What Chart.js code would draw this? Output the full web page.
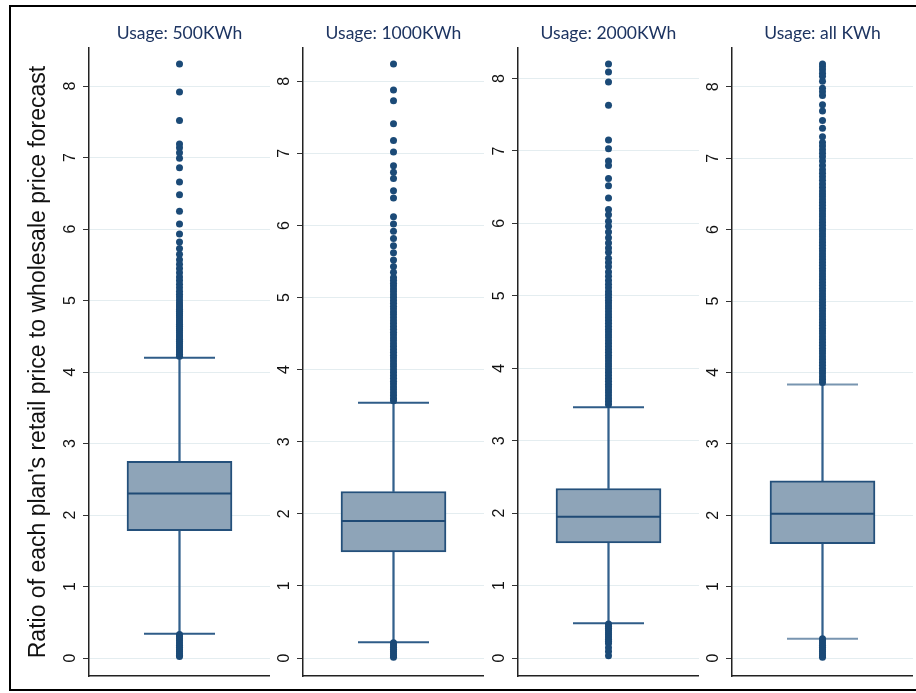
<!DOCTYPE html>
<html><head><meta charset="utf-8">
<script src="https://cdn.jsdelivr.net/npm/chart.js@4.4.1/dist/chart.umd.min.js"></script>
<style>
html,body{margin:0;padding:0;background:#fff;}
body{width:916px;height:693px;position:relative;overflow:hidden;}
#frame{position:absolute;left:9px;top:5px;width:930px;height:686px;border:2px solid #000;box-sizing:border-box;}
canvas{position:absolute;top:0;}
</style></head><body>
<div id="frame"></div>
<canvas id="c0" width="250" height="693" style="left:20px"></canvas>
<canvas id="c1" width="226" height="693" style="left:258px"></canvas>
<canvas id="c2" width="226" height="693" style="left:473px"></canvas>
<canvas id="c3" width="226" height="693" style="left:687px"></canvas>
<script>
// ---- data ----
const panelTitles = ['Usage: 500KWh', 'Usage: 1000KWh', 'Usage: 2000KWh', 'Usage: all KWh'];
const categories = ['500KWh', '1000KWh', '2000KWh', 'all KWh'];
const yAxisTitle = "Ratio of each plan's retail price to wholesale price forecast";
const yTicks = [0, 1, 2, 3, 4, 5, 6, 7, 8];

const q1 = [1.78, 1.47, 1.59, 1.60];
const medians = [2.30, 1.90, 1.95, 2.02];
const q3 = [2.75, 2.31, 2.34, 2.48];
const upperWhisker = [4.20, 3.54, 3.46, 3.83];
const lowerWhisker = [0.34, 0.22, 0.48, 0.27];

const outliers500 = [8.31, 7.92, 7.52, 7.19, 7.14, 7.07, 6.99, 6.86, 6.66, 6.48, 6.25, 6.07, 5.93, 5.82, 5.73,
  5.65, 5.57, 5.51, 5.45, 5.39, 5.33, 5.28, 5.23, 5.18, 5.13, 5.09, 5.05, 5.01, 4.97, 4.94, 4.91, 4.88, 4.85,
  4.82, 4.79, 4.76, 4.73, 4.70, 4.67, 4.64, 4.61, 4.58, 4.55, 4.52, 4.49, 4.46, 4.43, 4.40, 4.37, 4.34, 4.31,
  4.28, 4.25, 4.22,
  0.33, 0.30, 0.27, 0.24, 0.21, 0.18, 0.15, 0.12, 0.09, 0.06, 0.04, 0.02];

const outliers1000 = [8.24, 7.88, 7.73, 7.41, 7.18, 7.02, 6.83, 6.74, 6.65, 6.48, 6.38, 6.12, 6.02, 5.92, 5.82,
  5.72, 5.62, 5.52, 5.43, 5.35, 5.28, 5.24, 5.20, 5.16, 5.12, 5.08, 5.04, 5.00, 4.96, 4.92, 4.88, 4.84, 4.80,
  4.76, 4.72, 4.68, 4.64, 4.60, 4.56, 4.52, 4.48, 4.44, 4.40, 4.36, 4.32, 4.28, 4.24, 4.20, 4.16, 4.12, 4.08,
  4.04, 4.00, 3.96, 3.92, 3.88, 3.84, 3.80, 3.76, 3.72, 3.68, 3.64, 3.60, 3.57,
  0.21, 0.18, 0.15, 0.12, 0.09, 0.06, 0.03, 0.01];

const outliers2000 = [8.20, 8.09, 7.95, 7.63, 7.15, 7.03, 6.86, 6.80, 6.62, 6.52, 6.35, 6.19, 6.12, 6.03, 5.96,
  5.88, 5.80, 5.73, 5.66, 5.60, 5.52, 5.46, 5.40, 5.33, 5.27, 5.21, 5.16, 5.11, 5.06, 5.02, 4.98, 4.94, 4.90,
  4.86, 4.82, 4.78, 4.74, 4.70, 4.66, 4.62, 4.58, 4.54, 4.50, 4.46, 4.42, 4.38, 4.34, 4.30, 4.26, 4.22, 4.18,
  4.14, 4.10, 4.06, 4.02, 3.98, 3.94, 3.90, 3.86, 3.82, 3.78, 3.74, 3.70, 3.66, 3.62, 3.58, 3.54, 3.50,
  0.47, 0.44, 0.41, 0.38, 0.35, 0.32, 0.29, 0.26, 0.23, 0.20, 0.14, 0.09, 0.03];

const outliersAll = [8.32, 8.28, 8.24, 8.19, 8.15, 8.08, 7.98, 7.93, 7.88, 7.75, 7.66, 7.53, 7.42, 7.30, 7.22,
  7.17, 7.12, 7.07, 7.02, 6.96, 6.90, 6.84, 6.79, 6.74, 6.69, 6.64, 6.59, 6.54, 6.50, 6.46, 6.42, 6.38, 6.34,
  6.30, 6.26, 6.22, 6.18, 6.14, 6.10, 6.06, 6.02, 5.98, 5.94, 5.90, 5.86, 5.82, 5.78, 5.74, 5.70, 5.66, 5.62,
  5.58, 5.54, 5.50, 5.46, 5.42, 5.38, 5.34, 5.30, 5.26, 5.22, 5.18, 5.14, 5.10, 5.06, 5.02, 4.98, 4.94, 4.90,
  4.86, 4.82, 4.78, 4.74, 4.70, 4.66, 4.62, 4.58, 4.54, 4.50, 4.46, 4.42, 4.38, 4.34, 4.30, 4.26, 4.22, 4.18,
  4.14, 4.10, 4.06, 4.02, 3.98, 3.94, 3.90, 3.86,
  0.27, 0.24, 0.21, 0.18, 0.15, 0.12, 0.09, 0.06, 0.03, 0.01];

const outlierSets = [outliers500, outliers1000, outliers2000, outliersAll];

// ---- drawing ----
const rotTicks = {
  id: 'rotTicks',
  afterDraw(chart) {
    const s = chart.scales.y, ctx = chart.ctx;
    ctx.save();
    ctx.fillStyle = '#111';
    ctx.font = '16px "Liberation Sans", Arial, sans-serif';
    ctx.textAlign = 'center';
    ctx.textBaseline = 'alphabetic';
    s.ticks.forEach(t => {
      const y = s.getPixelForValue(t.value);
      ctx.save();
      ctx.translate(s.right - 14, y);
      ctx.rotate(-Math.PI / 2);
      ctx.fillText(String(t.value), 0, 0);
      ctx.restore();
    });
    ctx.restore();
  }
};

function makeChart(i) {
  const label = categories[i];
  const outl = outlierSets[i];
  const maxV = Math.max(...outl);
  const yMin = -maxV * 18 / 594;
  const yMax = maxV + maxV * 16 / 594;
  const first = i === 0;
  new Chart(document.getElementById('c' + i), {
    type: 'bar',
    data: {
      labels: [label],
      datasets: [
        { type: 'line', label: 'outliers', data: outl.map(v => ({ x: label, y: v })), showLine: false,
          pointRadius: 3.5, pointHoverRadius: 3.5, pointBackgroundColor: '#1b4a77', pointBorderWidth: 0, order: 0 },
        { type: 'line', label: 'median', data: [{ x: label, y: medians[i] }], showLine: false,
          pointStyle: 'line', pointRadius: 52, pointBorderColor: '#1f4a75', pointBorderWidth: 2, order: 1 },
        { type: 'line', label: 'caps', data: [{ x: label, y: upperWhisker[i] }, { x: label, y: lowerWhisker[i] }], showLine: false,
          pointStyle: 'line', pointRadius: 35.5, pointBorderColor: i === 3 ? '#7895b0' : '#2f5c88', pointBorderWidth: 2, order: 1 },
        { type: 'bar', label: 'box', data: [[q1[i], q3[i]]], backgroundColor: '#8ea4b8', borderColor: '#24507b',
          borderWidth: 2, borderSkipped: false, barThickness: 105, grouped: false, order: 2 },
        { type: 'bar', label: 'upper whisker', data: [[q3[i], upperWhisker[i]]], backgroundColor: '#32608c',
          borderWidth: 0, barThickness: 1.6, grouped: false, order: 3 },
        { type: 'bar', label: 'lower whisker', data: [[lowerWhisker[i], q1[i]]], backgroundColor: '#32608c',
          borderWidth: 0, barThickness: 1.6, grouped: false, order: 3 }
      ]
    },
    options: {
      responsive: false, animation: false, devicePixelRatio: 1,
      layout: { autoPadding: false, padding: { top: 0, bottom: 17, left: 0, right: 0 } },
      plugins: {
        legend: { display: false }, tooltip: { enabled: false },
        title: { display: true, text: panelTitles[i], fullSize: false, color: '#1d3461',
          font: { family: 'Lato', size: 17.5, weight: 'normal' }, padding: { top: 23, bottom: 4 } }
      },
      scales: {
        x: { grid: { display: false }, ticks: { display: false },
          border: { display: true, color: '#222', width: 1.5 },
          afterFit: s => { s.height = 0; } },
        y: { min: yMin, max: yMax,
          afterBuildTicks: s => { s.ticks = yTicks.map(v => ({ value: v })); },
          ticks: { display: false },
          grid: { color: '#e4edf0', lineWidth: 1, tickColor: '#333', tickLength: 6, tickWidth: 1 },
          border: { display: true, color: '#222', width: 1.5 },
          title: { display: first, text: yAxisTitle, color: '#111',
            font: { family: 'Liberation Sans', size: 23, weight: 'normal' }, padding: { top: 5, bottom: 0 } },
          afterFit: s => { s.width = first ? 69 : 45; } }
      }
    },
    plugins: [rotTicks]
  });
}
for (let i = 0; i < 4; i++) makeChart(i);
</script>
</body></html>
